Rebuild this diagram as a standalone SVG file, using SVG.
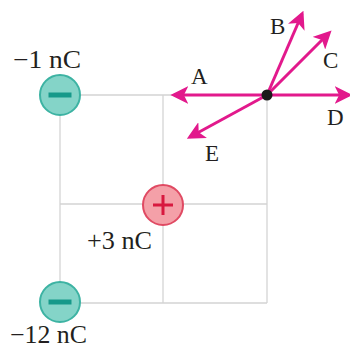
<svg xmlns="http://www.w3.org/2000/svg" width="350" height="349" viewBox="0 0 350 349">
<style>
.grid{stroke:#d4d4d4;stroke-width:1.3;fill:none}
.arr{stroke:#e2198c;stroke-width:3;fill:none;marker-end:url(#ah)}
text{font-family:'Liberation Serif','Times New Roman',serif;fill:#231f20}
.q{font-size:25px}
.l{font-size:23px}
.neg{fill:#84d4c8;stroke:#3db3a3;stroke-width:2}
.pos{fill:#f4a0a8;stroke:#e04a63;stroke-width:2}
</style>
<defs>
<marker id="ah" viewBox="0 0 10 10" refX="8" refY="5" markerWidth="6" markerHeight="6" orient="auto" markerUnits="strokeWidth">
<path d="M0,0 L10,5 L0,10 L2.5,5 Z" fill="#e2198c"/>
</marker>
</defs>
<g id="grid">
<path class="grid" d="M60,95 H267 M60,204 H267 M60,303 H267 M60,95 V303 M163,95 V303 M267,95 V303"/>
</g>
<g id="connectors">
<line class="arr" x1="267" y1="95" x2="174" y2="95"/>
<line class="arr" x1="267" y1="95" x2="349" y2="95"/>
<line class="arr" x1="267" y1="95" x2="302" y2="14"/>
<line class="arr" x1="267" y1="95" x2="329" y2="33"/>
<line class="arr" x1="267" y1="95" x2="190" y2="137"/>
</g>
<g id="point">
<circle cx="267" cy="95" r="5.5" fill="#1a1a1a"/>
</g>
<g id="q1">
<circle class="neg" cx="60" cy="95" r="20"/>
<rect x="48.5" y="92.5" width="23" height="5" fill="#16998a"/>
<text class="q" x="13" y="68" textLength="68" lengthAdjust="spacingAndGlyphs">−1 nC</text>
</g>
<g id="q2">
<circle class="pos" cx="163" cy="205" r="20"/>
<path d="M153,205 H173 M163,195 V215" stroke="#d8193f" stroke-width="3"/>
<text class="q" x="87" y="249" textLength="65" lengthAdjust="spacingAndGlyphs">+3 nC</text>
</g>
<g id="q3">
<circle class="neg" cx="60" cy="302" r="20"/>
<rect x="48.5" y="299.5" width="23" height="5" fill="#16998a"/>
<text class="q" x="10" y="343" textLength="77" lengthAdjust="spacingAndGlyphs">−12 nC</text>
</g>
<g id="labels">
<text class="l" x="191" y="84">A</text>
<text class="l" x="270" y="34">B</text>
<text class="l" x="323" y="68">C</text>
<text class="l" x="327" y="125">D</text>
<text class="l" x="205" y="161">E</text>
</g>
</svg>
